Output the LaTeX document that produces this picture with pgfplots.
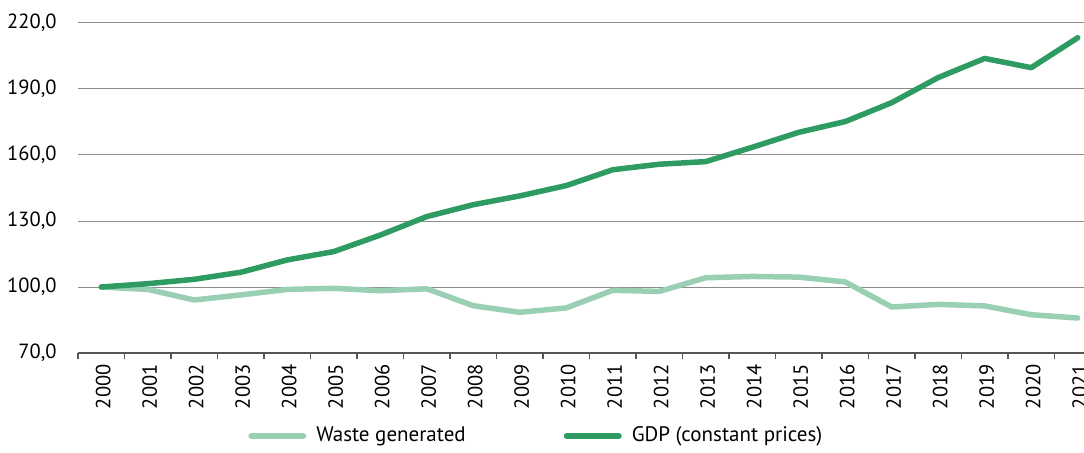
\documentclass[border=0pt]{standalone}
\usepackage{pgfplots}
\pgfplotsset{compat=1.18}
\usepackage{fontspec}
\setmainfont{PT Sans}

\definecolor{gdpgreen}{RGB}{46,155,99}
\definecolor{wastegreen}{RGB}{153,207,179}
\definecolor{gridgrey}{RGB}{140,140,140}
\definecolor{axisgrey}{RGB}{85,85,85}

\begin{document}
\fontsize{21bp}{25bp}\selectfont
\begin{tikzpicture}
    \begin{axis}[
        at={(0,0)}, anchor=south west,
        scale only axis,
        width=1023bp, height=330bp,
        xmin=-0.5, xmax=21.5,
        ymin=70, ymax=220,
        ytick={70,100,130,160,190,220},
        xtick={0,...,21},
        xticklabels={2000,2001,2002,2003,2004,2005,2006,2007,2008,2009,2010,
                     2011,2012,2013,2014,2015,2016,2017,2018,2019,2020,2021},
        minor xtick={-0.5,0.5,...,21.5},
        xticklabel style={rotate=90, anchor=east, yshift=-2bp, font=\fontsize{20.5bp}{24bp}\selectfont},
        yticklabel style={xshift=-10bp, font=\fontsize{20.5bp}{24bp}\selectfont},
        major x tick style={draw=none},
        minor x tick style={draw=axisgrey, line width=1.5bp},
        minor tick length=6bp,
        tick align=outside,
        ytick style={draw=none},
        axis x line*=bottom,
        axis y line*=left,
        x axis line style={draw=axisgrey, line width=2bp, -},
        y axis line style={draw=none},
        ymajorgrids,
        grid style={draw=gridgrey, line width=1bp},
        yticklabel={\pgfmathprintnumber[fixed, fixed zerofill, precision=1, use comma]{\tick}},
        /pgf/number format/assume math mode=true,
        clip=false,
        legend style={
            draw=none, fill=none,
            at={(0.448,-0.2515)}, anchor=center,
            legend columns=2,
            font=\fontsize{21bp}{25bp}\selectfont,
            /tikz/every odd column/.append style={column sep=8bp},
            /tikz/every even column/.append style={column sep=96bp},
        },
        legend image code/.code={
            \draw[#1, line width=6bp] (0bp,0bp) -- (52bp,0bp);
        },
    ]
        \addplot[wastegreen, line width=5.5bp, line join=round, line cap=round] coordinates {
            (0,100.0) (1,98.9) (2,94.1) (3,96.4) (4,98.9) (5,99.4) (6,98.3) (7,99.2)
            (8,91.5) (9,88.5) (10,90.5) (11,98.5) (12,98.0) (13,104.2) (14,104.8)
            (15,104.5) (16,102.3) (17,90.9) (18,92.1) (19,91.4) (20,87.4) (21,85.9)
        };
        \addlegendentry{Waste generated}
        \addplot[gdpgreen, line width=5.5bp, line join=round, line cap=round] coordinates {
            (0,100.0) (1,101.5) (2,103.5) (3,106.7) (4,112.3) (5,116.1) (6,123.6) (7,132.0)
            (8,137.4) (9,141.4) (10,146.1) (11,153.3) (12,155.8) (13,157.0) (14,163.5)
            (15,170.3) (16,175.2) (17,183.8) (18,195.2) (19,203.9) (20,199.7) (21,213.3)
        };
        \addlegendentry{GDP (constant prices)}
    \end{axis}
    \pgfresetboundingbox
    \useasboundingbox (-78bp,-100bp) rectangle (1006bp,353bp);
\end{tikzpicture}
\end{document}
